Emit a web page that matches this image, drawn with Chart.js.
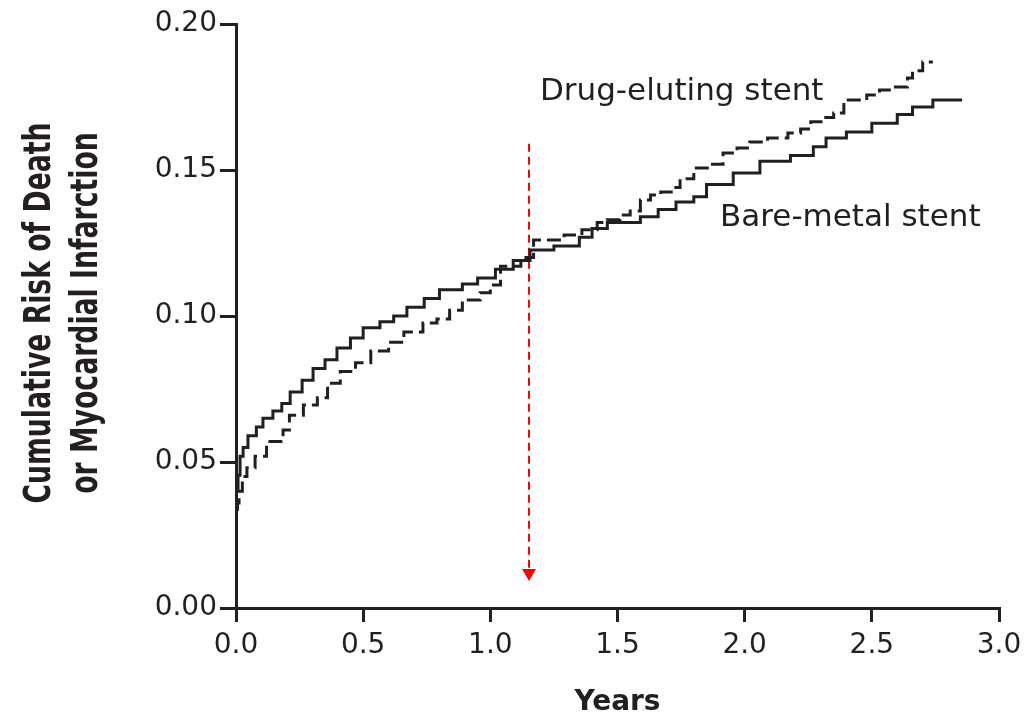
<!DOCTYPE html>
<html lang="en">
<head>
    <meta charset="UTF-8">
    <title>Cumulative Risk of Death or Myocardial Infarction</title>
    <script src="https://cdn.jsdelivr.net/npm/chart.js"></script>
    <style>
        body {
            margin: 0;
            background-color: white;
        }

        #wrap {
            width: 1025px;
            height: 716px;
            position: relative;
        }
    </style>
</head>
<body>
    <div id="wrap">
        <canvas id="kmChart"></canvas>
    </div>
    <script>
        // Bare-metal stent (solid line)
        var bmsYears = [0, 0.008, 0.016, 0.028, 0.047, 0.08, 0.106, 0.145, 0.18, 0.213, 0.26, 0.303, 0.35, 0.397,
            0.45, 0.5, 0.566, 0.62, 0.672, 0.74, 0.8, 0.89, 0.95, 1.02, 1.09, 1.156, 1.25, 1.35, 1.4, 1.46,
            1.59, 1.66, 1.73, 1.8, 1.85, 1.955, 2.06, 2.18, 2.27, 2.32, 2.4, 2.5, 2.6, 2.66, 2.74, 2.78, 2.855];
        var bmsRisk = [0.030, 0.040, 0.0455, 0.052, 0.055, 0.059, 0.062, 0.065, 0.0675, 0.070, 0.074, 0.078, 0.082, 0.085,
            0.089, 0.0925, 0.096, 0.098, 0.100, 0.103, 0.106, 0.109, 0.111, 0.113, 0.116, 0.119, 0.1226, 0.124, 0.127, 0.130,
            0.132, 0.134, 0.1365, 0.139, 0.1408, 0.145, 0.149, 0.153, 0.155, 0.158, 0.161, 0.163, 0.166, 0.169, 0.1716, 0.174, 0.174];

        // Drug-eluting stent (dashed line)
        var desYears = [0, 0.006, 0.012, 0.025, 0.043, 0.075, 0.12, 0.185, 0.21, 0.265, 0.32, 0.36, 0.41, 0.47,
            0.53, 0.6, 0.66, 0.735, 0.79, 0.84, 0.89, 0.96, 1.0, 1.04, 1.12, 1.17, 1.29, 1.36, 1.42, 1.46,
            1.51, 1.55, 1.59, 1.63, 1.67, 1.72, 1.746, 1.8, 1.865, 1.915, 1.97, 2.02, 2.09, 2.17, 2.22, 2.26,
            2.3, 2.35, 2.39, 2.41, 2.48, 2.53, 2.58, 2.64, 2.66, 2.7, 2.72, 2.74];
        var desRisk = [0.027, 0.033, 0.036, 0.040, 0.045, 0.048, 0.052, 0.057, 0.061, 0.066, 0.0695, 0.072, 0.077, 0.081,
            0.084, 0.088, 0.091, 0.0945, 0.0976, 0.099, 0.102, 0.1055, 0.108, 0.1106, 0.117, 0.120, 0.126, 0.1277, 0.1295, 0.132,
            0.133, 0.1346, 0.136, 0.1397, 0.1414, 0.1425, 0.144, 0.147, 0.1507, 0.152, 0.1558, 0.1575, 0.1596, 0.161, 0.1627, 0.164,
            0.1665, 0.168, 0.1695, 0.174, 0.174, 0.1757, 0.1774, 0.1784, 0.1815, 0.184, 0.187, 0.187];

        // red arrow marker
        var arrowYears = [1.152, 1.152];
        var arrowRisk = [0.159, 0.012];

        var xTicks = [0, 0.5, 1.0, 1.5, 2.0, 2.5, 3.0];
        var yTicks = [0, 0.05, 0.10, 0.15, 0.20];

        var yTitle = ['Cumulative Risk of Death', 'or Myocardial Infarction'];
        var xTitle = 'Years';
        var curveLabels = [
            { text: 'Drug-eluting stent', x: 1.195, y: 0.1767 },
            { text: 'Bare-metal stent', x: 1.903, y: 0.1336 }
        ];

        function toPoints(xs, ys) {
            return xs.map(function (x, i) { return { x: x, y: ys[i] }; });
        }

        var ink = '#231f20';

        var textPlugin = {
            id: 'textPlugin',
            afterDraw: function (chart) {
                var ctx = chart.ctx;
                var xs = chart.scales.x;
                var ys = chart.scales.y;

                ctx.save();
                ctx.fillStyle = ink;
                ctx.font = '31px "DejaVu Sans"';
                ctx.textBaseline = 'middle';
                ctx.textAlign = 'left';
                curveLabels.forEach(function (l) {
                    ctx.fillText(l.text, xs.getPixelForValue(l.x), ys.getPixelForValue(l.y));
                });
                ctx.restore();

                // y axis title, two rotated lines, condensed
                ctx.save();
                ctx.fillStyle = ink;
                ctx.font = 'bold 37px "DejaVu Sans"';
                ctx.textAlign = 'center';
                ctx.textBaseline = 'alphabetic';
                var sx = 381 / ctx.measureText(yTitle[0]).width;
                var baselines = [50, 97];
                yTitle.forEach(function (line, i) {
                    ctx.save();
                    ctx.translate(baselines[i], 313);
                    ctx.rotate(-Math.PI / 2);
                    ctx.scale(sx, 1);
                    ctx.fillText(line, 0, 0);
                    ctx.restore();
                });
                ctx.restore();
            }
        };

        document.addEventListener('DOMContentLoaded', function () {
            var ctx = document.getElementById('kmChart').getContext('2d');

            var kmChart = new Chart(ctx, {
                type: 'line',
                data: {
                    datasets: [{
                        label: 'Bare-metal stent',
                        data: toPoints(bmsYears, bmsRisk),
                        borderColor: ink,
                        borderWidth: 3,
                        stepped: 'after',
                        pointRadius: 0,
                        fill: false
                    }, {
                        label: 'Drug-eluting stent',
                        data: toPoints(desYears, desRisk),
                        borderColor: ink,
                        borderWidth: 3,
                        borderDash: [14, 6],
                        stepped: 'after',
                        pointRadius: 0,
                        fill: false
                    }, {
                        label: 'arrow',
                        data: toPoints(arrowYears, arrowRisk),
                        borderColor: '#ff0000',
                        backgroundColor: '#ff0000',
                        borderWidth: 2,
                        borderDash: [8, 5],
                        pointStyle: 'triangle',
                        rotation: 180,
                        pointRadius: [0, 8],
                        pointBorderWidth: 0,
                        fill: false
                    }]
                },
                options: {
                    responsive: true,
                    maintainAspectRatio: false,
                    animation: false,
                    layout: {
                        padding: { top: 24, right: 26, left: 0, bottom: 0 }
                    },
                    plugins: {
                        legend: { display: false },
                        tooltip: { enabled: false }
                    },
                    scales: {
                        x: {
                            type: 'linear',
                            min: 0,
                            max: 3,
                            afterFit: function (scale) {
                                scale.height = 108;
                                scale.paddingRight = 0;
                                scale.paddingLeft = 0;
                            },
                            afterBuildTicks: function (scale) {
                                scale.ticks = xTicks.map(function (v) { return { value: v }; });
                            },
                            border: { display: true, color: ink, width: 3 },
                            grid: {
                                drawOnChartArea: false,
                                drawTicks: true,
                                tickLength: 14,
                                color: ink,
                                lineWidth: 3
                            },
                            ticks: {
                                color: ink,
                                padding: 7,
                                maxRotation: 0,
                                font: { family: 'DejaVu Sans', size: 28 },
                                callback: function (v) { return Number(v).toFixed(1); }
                            },
                            title: {
                                display: true,
                                text: xTitle,
                                color: ink,
                                padding: { top: 0, bottom: -4 },
                                font: { family: 'DejaVu Sans', size: 28, weight: 'bold' }
                            }
                        },
                        y: {
                            type: 'linear',
                            min: 0,
                            max: 0.2,
                            afterFit: function (scale) { scale.width = 236; },
                            afterBuildTicks: function (scale) {
                                scale.ticks = yTicks.map(function (v) { return { value: v }; });
                            },
                            border: { display: true, color: ink, width: 3 },
                            grid: {
                                drawOnChartArea: false,
                                drawTicks: true,
                                tickLength: 16,
                                color: ink,
                                lineWidth: 3
                            },
                            ticks: {
                                color: ink,
                                padding: 3,
                                font: { family: 'DejaVu Sans', size: 28 },
                                callback: function (v) { return Number(v).toFixed(2); }
                            }
                        }
                    }
                },
                plugins: [textPlugin]
            });
        });
    </script>
</body>
</html>
